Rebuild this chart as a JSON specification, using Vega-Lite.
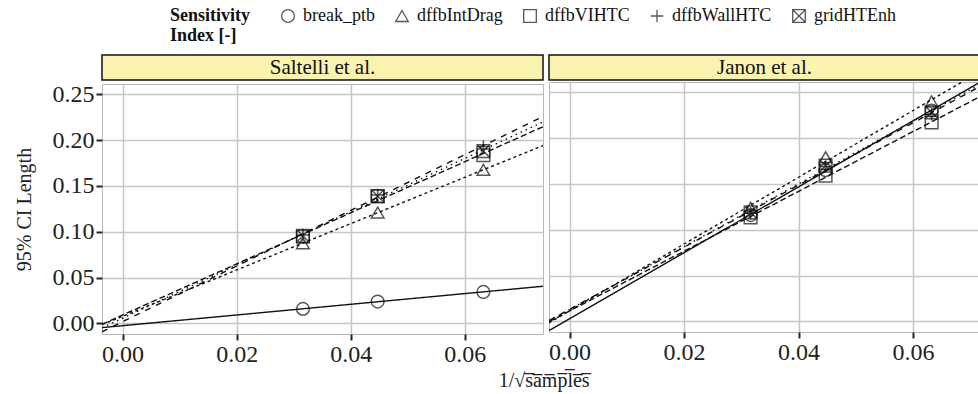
{
  "$schema": "https://vega.github.io/schema/vega-lite/v6.json",
  "background": "white",
  "padding": {"left": 13, "top": 7, "right": 0, "bottom": 4},
  "title": {
    "text": "1/√s̅a̅m̅p̅l̅e̅s̅",
    "orient": "bottom",
    "anchor": "middle",
    "font": "Liberation Serif",
    "fontSize": 20,
    "fontWeight": "normal",
    "color": "#222222",
    "offset": 4,
    "dx": 47
  },
  "config": {
    "font": "Liberation Serif",
    "view": {"stroke": "#bdb5b5", "strokeWidth": 1},
    "axis": {
      "gridColor": "#cbc3c3",
      "gridWidth": 1.5,
      "domain": false,
      "tickColor": "#222222",
      "tickWidth": 2,
      "tickSize": 6,
      "labelFont": "Liberation Serif",
      "labelFontSize": 24,
      "labelColor": "#222222",
      "labelPadding": 2,
      "titleFont": "Liberation Serif",
      "titleFontSize": 20,
      "titleFontWeight": "normal",
      "titleColor": "#222222"
    }
  },
  "data": {
    "values": [
      {"panel": "Saltelli et al.", "index": "break_ptb", "x": 0.03162, "y": 0.0158},
      {"panel": "Saltelli et al.", "index": "break_ptb", "x": 0.04472, "y": 0.0238},
      {"panel": "Saltelli et al.", "index": "break_ptb", "x": 0.06325, "y": 0.0343},
      {"panel": "Saltelli et al.", "index": "dffbIntDrag", "x": 0.03162, "y": 0.0875},
      {"panel": "Saltelli et al.", "index": "dffbIntDrag", "x": 0.04472, "y": 0.121},
      {"panel": "Saltelli et al.", "index": "dffbIntDrag", "x": 0.06325, "y": 0.1675},
      {"panel": "Saltelli et al.", "index": "dffbVIHTC", "x": 0.03162, "y": 0.0945},
      {"panel": "Saltelli et al.", "index": "dffbVIHTC", "x": 0.04472, "y": 0.1385},
      {"panel": "Saltelli et al.", "index": "dffbVIHTC", "x": 0.06325, "y": 0.1835},
      {"panel": "Saltelli et al.", "index": "dffbWallHTC", "x": 0.03162, "y": 0.0965},
      {"panel": "Saltelli et al.", "index": "dffbWallHTC", "x": 0.04472, "y": 0.14},
      {"panel": "Saltelli et al.", "index": "dffbWallHTC", "x": 0.06325, "y": 0.193},
      {"panel": "Saltelli et al.", "index": "gridHTEnh", "x": 0.03162, "y": 0.0955},
      {"panel": "Saltelli et al.", "index": "gridHTEnh", "x": 0.04472, "y": 0.139},
      {"panel": "Saltelli et al.", "index": "gridHTEnh", "x": 0.06325, "y": 0.188},
      {"panel": "Janon et al.", "index": "break_ptb", "x": 0.03162, "y": 0.116},
      {"panel": "Janon et al.", "index": "break_ptb", "x": 0.04472, "y": 0.165},
      {"panel": "Janon et al.", "index": "break_ptb", "x": 0.06325, "y": 0.23},
      {"panel": "Janon et al.", "index": "dffbIntDrag", "x": 0.03162, "y": 0.124},
      {"panel": "Janon et al.", "index": "dffbIntDrag", "x": 0.04472, "y": 0.179},
      {"panel": "Janon et al.", "index": "dffbIntDrag", "x": 0.06325, "y": 0.24},
      {"panel": "Janon et al.", "index": "dffbVIHTC", "x": 0.03162, "y": 0.1135},
      {"panel": "Janon et al.", "index": "dffbVIHTC", "x": 0.04472, "y": 0.159},
      {"panel": "Janon et al.", "index": "dffbVIHTC", "x": 0.06325, "y": 0.217},
      {"panel": "Janon et al.", "index": "dffbWallHTC", "x": 0.03162, "y": 0.118},
      {"panel": "Janon et al.", "index": "dffbWallHTC", "x": 0.04472, "y": 0.169},
      {"panel": "Janon et al.", "index": "dffbWallHTC", "x": 0.06325, "y": 0.226},
      {"panel": "Janon et al.", "index": "gridHTEnh", "x": 0.03162, "y": 0.119},
      {"panel": "Janon et al.", "index": "gridHTEnh", "x": 0.04472, "y": 0.17},
      {"panel": "Janon et al.", "index": "gridHTEnh", "x": 0.06325, "y": 0.228}
    ]
  },
  "spacing": 4,
  "hconcat": [
    {
      "spacing": 0,
      "vconcat": [
        {
          "width": 441,
          "height": 25,
          "view": {"fill": "#faf3b0", "stroke": "#111111", "strokeWidth": 1.5},
          "data": {"values": [{"label": "Saltelli et al."}]},
          "mark": {"type": "text", "fontSize": 21, "font": "Liberation Serif", "color": "#111111", "align": "center", "baseline": "middle"},
          "encoding": {"text": {"field": "label", "type": "nominal"}}
        },
        {
          "width": 441,
          "height": 250,
          "transform": [{"filter": "datum.panel === 'Saltelli et al.'"}],
          "layer": [
            {
              "transform": [{"regression": "y", "on": "x", "groupby": ["index"], "extent": [-0.0036, 0.0737]}],
              "mark": {"type": "line", "clip": true, "color": "#111111", "strokeWidth": 1.4},
              "encoding": {
                "x": {"field": "x", "type": "quantitative", "scale": {"domain": [-0.0036, 0.0737], "nice": false, "zero": false},
                  "axis": {"values": [0, 0.02, 0.04, 0.06], "format": ".2f", "title": null}},
                "y": {"field": "y", "type": "quantitative", "scale": {"domain": [-0.0116, 0.2612], "nice": false, "zero": false},
                  "axis": {"values": [0, 0.05, 0.1, 0.15, 0.2, 0.25], "format": ".2f", "title": "95% CI Length", "titlePadding": 18}},
                "strokeDash": {"field": "index", "type": "nominal",
                  "scale": {"domain": ["break_ptb", "dffbIntDrag", "dffbVIHTC", "gridHTEnh", "dffbWallHTC"], "range": [[1, 0], [3, 3], [6, 3], [1.5, 4], [6, 6]]},
                  "legend": null}
              }
            },
            {
              "mark": {"type": "point", "filled": false, "color": "#111111", "size": 160, "strokeWidth": 1.5},
              "encoding": {
                "x": {"field": "x", "type": "quantitative", "scale": {"domain": [-0.0036, 0.0737], "nice": false, "zero": false}},
                "y": {"field": "y", "type": "quantitative", "scale": {"domain": [-0.0116, 0.2612], "nice": false, "zero": false}},
                "shape": {"field": "index", "type": "nominal",
                  "scale": {"domain": ["break_ptb", "dffbIntDrag", "dffbVIHTC", "dffbWallHTC", "gridHTEnh"],
                    "range": ["circle", "triangle-up", "square", "M-1,0H1M0,-1V1", "M-1,-1H1V1H-1ZM-1,-1L1,1M-1,1L1,-1"]},
                  "legend": {
                    "orient": "none", "legendX": 68, "legendY": -48, "direction": "horizontal",
                    "title": ["Sensitivity", "\u00a0\u00a0\u00a0\u00a0Index [-]"], "titleOrient": "left", "titleAnchor": "start",
                    "titleFont": "Liberation Serif", "titleFontSize": 18, "titleFontWeight": "bold", "titleColor": "#111111",
                    "titlePadding": 28, "titleLineHeight": 20,
                    "labelFont": "Liberation Serif", "labelFontSize": 18, "labelColor": "#111111", "labelOffset": 6,
                    "symbolSize": 160, "symbolStrokeWidth": 1.3, "symbolStrokeColor": "#111111", "symbolFillColor": "transparent",
                    "columnPadding": 18
                  }}
              }
            }
          ]
        }
      ]
    },
    {
      "spacing": 0,
      "vconcat": [
        {
          "width": 431,
          "height": 25,
          "view": {"fill": "#faf3b0", "stroke": "#111111", "strokeWidth": 1.5},
          "data": {"values": [{"label": "Janon et al."}]},
          "mark": {"type": "text", "fontSize": 21, "font": "Liberation Serif", "color": "#111111", "align": "center", "baseline": "middle"},
          "encoding": {"text": {"field": "label", "type": "nominal"}}
        },
        {
          "width": 431,
          "height": 250,
          "transform": [{"filter": "datum.panel === 'Janon et al.'"}],
          "layer": [
            {
              "transform": [{"regression": "y", "on": "x", "groupby": ["index"], "extent": [-0.0036, 0.0717]}],
              "mark": {"type": "line", "clip": true, "color": "#111111", "strokeWidth": 1.4},
              "encoding": {
                "x": {"field": "x", "type": "quantitative", "scale": {"domain": [-0.0036, 0.0717], "nice": false, "zero": false},
                  "axis": {"values": [0, 0.02, 0.04, 0.06], "format": ".2f", "title": null}},
                "y": {"field": "y", "type": "quantitative", "scale": {"domain": [-0.0116, 0.2612], "nice": false, "zero": false},
                  "axis": {"values": [0, 0.05, 0.1, 0.15, 0.2, 0.25], "labels": false, "ticks": false, "title": null}},
                "strokeDash": {"field": "index", "type": "nominal",
                  "scale": {"domain": ["break_ptb", "dffbIntDrag", "dffbVIHTC", "gridHTEnh", "dffbWallHTC"], "range": [[1, 0], [3, 3], [6, 3], [1.5, 4], [6, 6]]},
                  "legend": null}
              }
            },
            {
              "mark": {"type": "point", "filled": false, "color": "#111111", "size": 160, "strokeWidth": 1.5},
              "encoding": {
                "x": {"field": "x", "type": "quantitative", "scale": {"domain": [-0.0036, 0.0717], "nice": false, "zero": false}},
                "y": {"field": "y", "type": "quantitative", "scale": {"domain": [-0.0116, 0.2612], "nice": false, "zero": false}},
                "shape": {"field": "index", "type": "nominal",
                  "scale": {"domain": ["break_ptb", "dffbIntDrag", "dffbVIHTC", "dffbWallHTC", "gridHTEnh"],
                    "range": ["circle", "triangle-up", "square", "M-1,0H1M0,-1V1", "M-1,-1H1V1H-1ZM-1,-1L1,1M-1,1L1,-1"]}}
              }
            }
          ]
        }
      ]
    }
  ],
  "resolve": {"legend": {"shape": "shared"}}
}
